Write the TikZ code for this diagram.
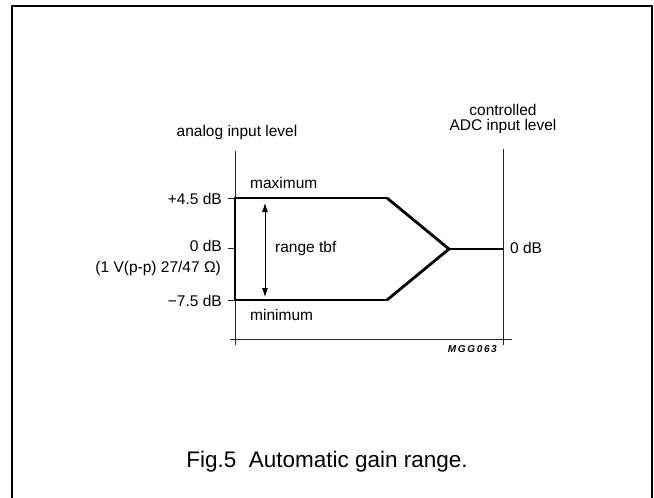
\documentclass[tikz,border=0pt]{standalone}
\usepackage{fontspec}
\setmainfont{Liberation Sans}
\usetikzlibrary{arrows.meta}
\begin{document}
\begin{tikzpicture}[x=1pt,y=-1pt,
  lbl/.style={inner sep=0pt,font=\fontsize{15.5}{17}\selectfont},
  axisline/.style={line width=0.9pt,draw=black!85},
  thick curve/.style={line width=2.8pt,line join=miter,line cap=butt},
  frameline/.style={line width=1.8pt}]
\useasboundingbox (0,0) rectangle (654,498);
% frame
\coordinate (f1) at (12,498);
\coordinate (f2) at (12,6);
\coordinate (f3) at (652,6);
\coordinate (f4) at (652,498);
\draw[frameline] (f1) -- (f2) -- (f3) -- (f4);
% axes
\coordinate (la1) at (235,151);
\coordinate (la2) at (235,345);
\coordinate (ra1) at (503,149);
\coordinate (ra2) at (503,345);
\coordinate (ba1) at (230,339);
\coordinate (ba2) at (512,339);
\draw[axisline] (la1) -- (la2);
\draw[axisline] (ra1) -- (ra2);
\draw[axisline] (ba1) -- (ba2);
% ticks
\coordinate (t1a) at (228,198); \coordinate (t1b) at (235,198);
\coordinate (t2a) at (228,248); \coordinate (t2b) at (235,248);
\coordinate (t3a) at (228,300); \coordinate (t3b) at (235,300);
\draw[axisline] (t1a) -- (t1b);
\draw[axisline] (t2a) -- (t2b);
\draw[axisline] (t3a) -- (t3b);
% thick curve
\coordinate (tl) at (235,198);
\coordinate (bl) at (235,300);
\coordinate (tr) at (387,198);
\coordinate (br) at (387,300);
\coordinate (mid) at (449,249);
\coordinate (out) at (503,249);
\draw[thick curve] (tr) -- (tl) -- (bl) -- (br);
\draw[thick curve] (tr) -- (mid) -- (br);
\draw[thick curve] (mid) -- (out);
% range arrow
\coordinate (ar1) at (265,203);
\coordinate (ar2) at (265,297);
\draw[line width=0.8pt,{Latex[length=9pt,width=6pt]}-{Latex[length=9pt,width=6pt]}] (ar1) -- (ar2);
% labels
\node[lbl,anchor=west] (max) at (250,183) {maximum};
\node[lbl,anchor=west] (min) at (250,315) {minimum};
\node[lbl,anchor=east] (p45) at (222,199) {+4.5 dB};
\node[lbl,anchor=east] (z0) at (222,246) {0 dB};
\node[lbl,anchor=east] (volt) at (221,268) {(1 V(p-p) 27/47 Ω)};
\node[lbl,anchor=east] (m75) at (222,301) {−7.5 dB};
\node[lbl,anchor=west] (rng) at (275,248) {range tbf};
\node[lbl,anchor=west] (z0r) at (510,248) {0 dB};
\node[lbl] (ail) at (237,132) {analog input level};
\node[lbl] (ctl) at (503,110) {controlled};
\node[lbl] (adc) at (503,126) {ADC input level};
\node[inner sep=0pt,anchor=east,font=\fontsize{10}{11}\selectfont\bfseries\itshape] (code) at (497,349) {M\,G\,G\,0\,6\,3};
\node[inner sep=0pt,font=\fontsize{22.5}{25}\selectfont] (cap) at (327,462) {Fig.5\ \ Automatic gain range.};
\end{tikzpicture}
\end{document}
